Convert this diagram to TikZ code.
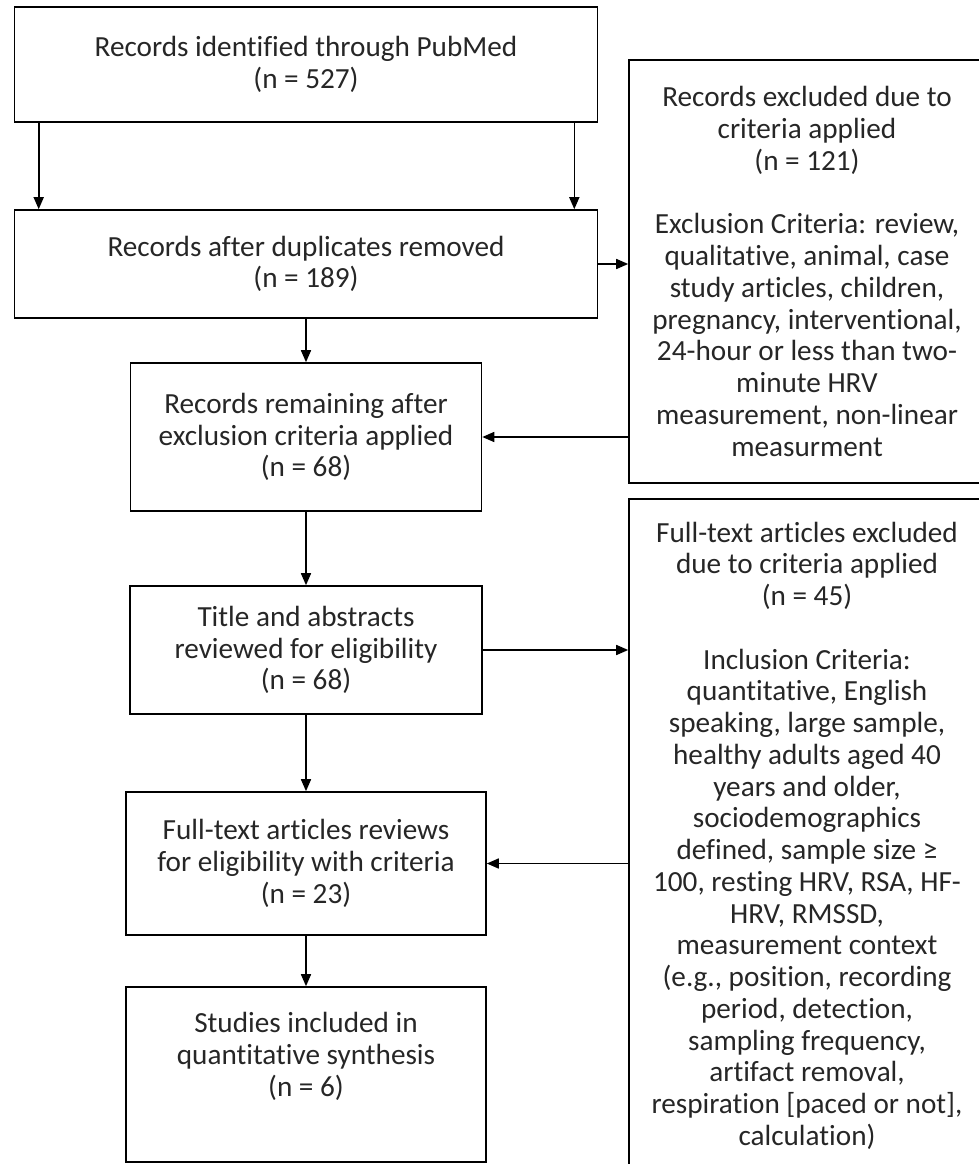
\documentclass[tikz,border=0pt]{standalone}
\usepackage{fontspec}
\setmainfont{Carlito}[Ligatures=CommonOff]
\usepackage{xcolor}
\usetikzlibrary{arrows.meta}

\begin{document}
\begin{tikzpicture}[x=1pt,y=-1pt,line width=1.6pt,>={Triangle[length=12pt,width=10pt]},
  flowbox/.style={draw,align=center,inner sep=0pt,text=black!85,font=\fontsize{29.2}{31.75}\selectfont}]

\useasboundingbox (0,0) rectangle (979,1164);

% left column
\node[flowbox,minimum width=583pt,minimum height=115pt] (RecordsA) at (306,64.5) {Records identified through PubMed\\(n = 527)};
\node[flowbox,minimum width=583pt,minimum height=108pt] (RecordsB) at (306,264) {Records after duplicates removed\\(n = 189)};
\node[flowbox,minimum width=351pt,minimum height=148pt] (RecordsC) at (306,437) {Records remaining after\\exclusion criteria applied\\(n = 68)};
\node[flowbox,minimum width=352pt,minimum height=128pt] (RecordsD) at (306,650) {Title and abstracts\\reviewed for eligibility\\(n = 68)};
\node[flowbox,minimum width=360pt,minimum height=143pt] (RecordsE) at (306,863.5) {Full-text articles reviews\\for eligibility with criteria\\(n = 23)};
\node[flowbox,minimum width=360pt,minimum height=175pt] (RecordsF) at (306,1074.5) {Studies included in\\quantitative synthesis\\(n = 6)\\[9pt]\mbox{}};

% right column
\node[flowbox,minimum width=356pt,minimum height=423pt] (ExcludedA) at (807,271.5) {Records excluded due to\\criteria applied\\(n = 121)\\[31.75pt]Exclusion Criteria: review,\\qualitative, animal, case\\study articles, children,\\pregnancy, interventional,\\24-hour or less than two-\\minute HRV\\measurement, non-linear\\measurment};

\node[flowbox,minimum width=356pt,minimum height=673pt] (ExcludedB) at (807,835.5) {Full-text articles excluded\\due to criteria applied\\(n = 45)\\[31.75pt]Inclusion Criteria:\\quantitative, English\\speaking, large sample,\\healthy adults aged 40\\years and older,\\sociodemographics\\defined, sample size ≥\\100, resting HRV, RSA, HF-\\HRV, RMSSD,\\measurement context\\(e.g., position, recording\\period, detection,\\sampling frequency,\\artifact removal,\\respiration [paced or not],\\calculation)};

\draw[->] ([xshift=25pt]RecordsA.south west) to ([xshift=25pt]RecordsB.north west);
\draw[->] ([xshift=-24pt]RecordsA.south east) to ([xshift=-24pt]RecordsB.north east);
\draw[->] (RecordsB.east) to (RecordsB.east -| ExcludedA.west);
\draw[->] (RecordsB) to (RecordsC);
\draw[<-] (RecordsC.east) to (RecordsC.east -| ExcludedA.west);
\draw[->] (RecordsC) to (RecordsD);
\draw[->] (RecordsD.east) to (RecordsD.east -| ExcludedB.west);
\draw[->] (RecordsD) to (RecordsE);
\draw[<-] (RecordsE.east) to (RecordsE.east -| ExcludedB.west);
\draw[->] (RecordsE) to (RecordsF);

\end{tikzpicture}
\end{document}
